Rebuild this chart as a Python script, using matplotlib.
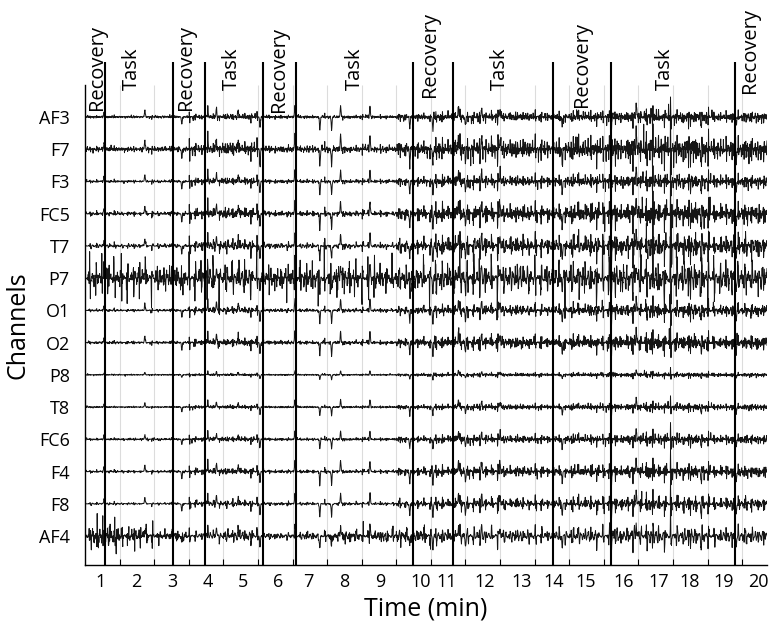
import numpy as np
import matplotlib.pyplot as plt

plt.rcParams['font.family'] = ['Open Sans', 'DejaVu Sans']

channels = ['AF3', 'F7', 'F3', 'FC5', 'T7', 'P7', 'O1', 'O2', 'P8', 'T8', 'FC6', 'F4', 'F8', 'AF4']
# relative amplitude of each channel
channel_gain = [0.5, 1.05, 0.6, 0.9, 0.95, 0.85, 0.6, 0.6, 0.18, 0.28, 0.42, 0.55, 0.6, 0.65]
channel_floor = [0.05, 0.12, 0.05, 0.08, 0.12, 0.9, 0.05, 0.05, 0.03, 0.03, 0.05, 0.05, 0.05, 0.15]
spike_gain = [0.7, 0.9, 0.7, 0.8, 0.8, 0.8, 0.7, 0.7, 0.25, 0.45, 0.5, 0.7, 0.7, 0.7]

# overall activity in each minute (0-1, 1-2, ... 19-20)
minute_activity = [0.15, 0.12, 0.15, 0.4, 0.45, 0.22, 0.2, 0.22, 0.18, 0.45,
                   0.6, 0.65, 0.65, 0.55, 0.75, 0.8, 1.0, 0.95, 0.7, 0.8]
# AF4 has its own extra activity
af4_extra = [0.9, 0.5, 0.3, 0.1, 0.3, 0.1, 0.2, 0.35, 0.35, 0.45,
             0.2, 0.2, 0.2, 0.2, 0.2, 0.3, 0.3, 0.2, 0.2, 0.2]

# artifact spikes seen on most channels (minute, amplitude)
spike_t = [0.55, 1.73, 2.8, 3.55, 3.8, 4.43, 5.06, 6.07, 6.79, 7.13, 7.39, 8.24,
           9.39, 10.06, 10.8, 11.0, 11.47, 12.0, 13.8, 15.22, 15.94, 17.82, 18.83]
spike_amp = [0.2, 0.3, -0.35, 0.35, 0.4, 0.3, -0.5, 0.45, -0.6, -0.6, 0.5, 0.5,
             -0.55, -0.6, 0.5, -0.45, 0.4, 0.35, -0.5, -0.55, 0.6, -0.5, -0.45]

phase_bounds = [0.58, 2.54, 3.47, 5.14, 6.10, 9.47, 10.63, 13.53, 15.22, 18.79]
phase_names = ['Recovery', 'Task', 'Recovery', 'Task', 'Recovery', 'Task',
               'Recovery', 'Task', 'Recovery', 'Task', 'Recovery']
phase_label_x = [0.34, 1.36, 2.92, 4.25, 5.61, 7.80, 9.97, 11.99, 14.36, 16.76, 19.22]
phase_label_y = [0.21, 0.85, 0.21, 0.85, 0.15, 0.85, 0.62, 0.85, 0.31, 0.85, 0.74]

minute_labels = [str(i) for i in range(1, 21)]
minute_label_x = [0.46, 1.49, 2.53, 3.55, 4.57, 5.58, 6.45, 7.49, 8.53, 9.70,
                  10.45, 11.56, 12.62, 13.55, 14.48, 15.58, 16.59, 17.49, 18.47, 19.48]

t_end = 19.72
t = np.linspace(0, t_end, 2800)
idx = np.minimum(np.floor(t).astype(int), 19)
activity = np.array(minute_activity)[idx]
af4_act = np.array(af4_extra)[idx]

freqs = [9.7, 14.3, 19.9, 26.1, 31.7, 37.3, 42.9, 51.1, 58.3]


def texture(k):
    s = np.zeros_like(t)
    for j, f in enumerate(freqs):
        s += np.sin(2 * np.pi * f * t + (k + 1) * (j + 1) * 0.77)
    s = s / 3.0
    # slow bursts so the trace is not uniform
    burst = 0.55 + 0.45 * np.abs(np.sin(2 * np.pi * (0.9 + 0.07 * k) * t + k))
    return burst * s * np.abs(s) ** 0.8


common = texture(0)
spikes = np.zeros_like(t)
for t0, a in zip(spike_t, spike_amp):
    spikes += a * np.exp(-((t - t0) / 0.016) ** 2)

fig = plt.figure(figsize=(7.8, 6.32), dpi=100)
ax = fig.add_axes([85 / 780, 67 / 632, 682 / 780, 480 / 632])
ylo, yhi = -13.9, 0.99

ax.vlines(range(1, 20), ylo, yhi, color='#dcdcdc', lw=0.8, zorder=0)

for i, ch in enumerate(channels):
    own = texture(i + 3)
    sig = 0.34 * channel_gain[i] * activity * (0.7 * common + 0.45 * own)
    sig += 0.3 * channel_floor[i] * texture(i + 20)
    if ch == 'AF4':
        sig += 0.3 * af4_act * texture(40)
    sig += spike_gain[i] * spikes
    ax.plot(t, -i + sig, color='#151515', lw=0.7, zorder=2)

ax.vlines(phase_bounds, ylo, 1.70, color='black', lw=1.5, clip_on=False, zorder=3)

for name, x, y in zip(phase_names, phase_label_x, phase_label_y):
    ax.text(x, y, name, rotation=90, ha='center', va='bottom', fontsize=14.5, zorder=4)

ax.set_xlim(0, t_end)
ax.set_ylim(ylo, yhi)
ax.set_yticks(-np.arange(len(channels)), channels)
ax.tick_params(axis='y', length=0, pad=11, labelsize=13)
ax.set_xticks(range(1, 20), [''] * 19)
ax.tick_params(axis='x', which='major', direction='in', length=4, width=0.8)
ax.set_xticks(minute_label_x, minute_labels, minor=True)
ax.tick_params(axis='x', which='minor', length=0, pad=6, labelsize=13)

ax.spines['top'].set_visible(False)
ax.spines['right'].set_visible(False)
ax.spines['left'].set_linewidth(1.0)
ax.spines['bottom'].set_linewidth(1.0)

ax.set_xlabel('Time (min)', fontsize=18, labelpad=4)
ax.set_ylabel('Channels', fontsize=18, labelpad=6)

fig.savefig('out.png', dpi=100)
